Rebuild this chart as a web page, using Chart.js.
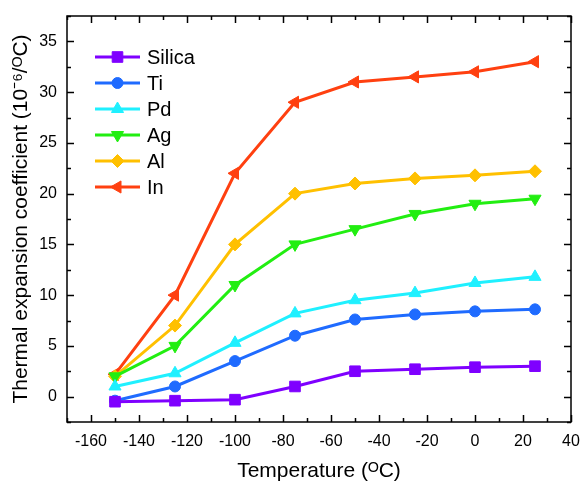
<!DOCTYPE html>
<html>
<head>
<meta charset="utf-8">
<script src="https://cdn.jsdelivr.net/npm/chart.js@4.4.1/dist/chart.umd.min.js"></script>
<style>
  html, body { margin: 0; padding: 0; background: #fff; }
  #wrap { width: 581px; height: 484px; }
</style>
</head>
<body>
<div id="wrap"><canvas id="chart" width="581" height="484"></canvas></div>
<script>
const temperatures = [-150, -125, -100, -75, -50, -25, 0, 25];
const silica = [-0.5, -0.4, -0.3, 1.0, 2.5, 2.7, 2.9, 3.0];
const ti = [-0.4, 1.0, 3.5, 6.0, 7.6, 8.1, 8.4, 8.6];
const pd = [1.0, 2.3, 5.3, 8.2, 9.5, 10.2, 11.2, 11.8];
const ag = [2.0, 5.0, 11.0, 15.0, 16.5, 18.0, 19.0, 19.5];
const al = [2.0, 7.0, 15.0, 20.0, 21.0, 21.5, 21.8, 22.2];
const indium = [2.2, 10.0, 22.0, 29.0, 31.0, 31.5, 32.0, 33.0];

const xTickLabels = [-160, -140, -120, -100, -80, -60, -40, -20, 0, 20, 40];
const yTickLabels = [0, 5, 10, 15, 20, 25, 30, 35];

const FONT = '"Liberation Sans", Arial, sans-serif';

function series(label, values, color, pointStyle, rotation, radius) {
    return {
        label: label,
        data: temperatures.map((t, i) => ({x: t, y: values[i]})),
        borderColor: color,
        backgroundColor: color,
        borderWidth: 3,
        pointStyle: pointStyle,
        rotation: rotation,
        pointRadius: radius,
        pointBorderWidth: 1,
        pointHoverRadius: radius
    };
}

// frame + inward ticks on all four sides
const frameTicks = {
    id: 'frameTicks',
    afterDraw(chart) {
        const {ctx, chartArea: {left, right, top, bottom}, scales: {x, y}} = chart;
        ctx.save();
        ctx.strokeStyle = '#000';
        ctx.lineWidth = 1.5;
        ctx.strokeRect(left, top, right - left, bottom - top);
        ctx.beginPath();
        for (let v = -170; v <= 40; v += 10) {
            const px = Math.round(x.getPixelForValue(v)) + 0.5;
            const len = (v % 20 === 0) ? 7 : 4;
            ctx.moveTo(px, bottom); ctx.lineTo(px, bottom - len);
            ctx.moveTo(px, top); ctx.lineTo(px, top + len);
        }
        for (let v = -2.5; v <= 37.5; v += 2.5) {
            const py = Math.round(y.getPixelForValue(v)) + 0.5;
            const len = (v % 5 === 0) ? 7 : 4;
            ctx.moveTo(left, py); ctx.lineTo(left + len, py);
            ctx.moveTo(right, py); ctx.lineTo(right - len, py);
        }
        ctx.stroke();
        ctx.restore();
    }
};

// legend drawn inside the plot, line + marker like the original
const insideLegend = {
    id: 'insideLegend',
    afterDraw(chart) {
        const ctx = chart.ctx;
        const x0 = 95, x1 = 140, y0 = 57, step = 26;
        ctx.save();
        chart.data.datasets.forEach((ds, i) => {
            const yy = y0 + i * step;
            ctx.strokeStyle = ds.borderColor;
            ctx.lineWidth = ds.borderWidth;
            ctx.beginPath();
            ctx.moveTo(x0, yy);
            ctx.lineTo(x1, yy);
            ctx.stroke();
            ctx.fillStyle = ds.backgroundColor;
            ctx.lineWidth = 1;
            Chart.helpers.drawPoint(ctx, {
                pointStyle: ds.pointStyle,
                rotation: ds.rotation,
                radius: ds.pointRadius,
                borderWidth: 1
            }, (x0 + x1) / 2, yy);
            ctx.fillStyle = '#000';
            ctx.font = '20px ' + FONT;
            ctx.textBaseline = 'middle';
            ctx.textAlign = 'left';
            ctx.fillText(ds.label, 147, yy + 1);
        });
        ctx.restore();
    }
};

new Chart(document.getElementById('chart'), {
    type: 'line',
    data: {
        datasets: [
            series('Silica', silica, '#7F00FF', 'rect', 0, 7.5),
            series('Ti', ti, '#1F6BFF', 'circle', 0, 5.5),
            series('Pd', pd, '#1FF0FF', 'triangle', 0, 7),
            series('Ag', ag, '#22EE11', 'triangle', 180, 7),
            series('Al', al, '#FFC000', 'rectRot', 0, 6.5),
            series('In', indium, '#FF4010', 'triangle', -90, 7)
        ]
    },
    options: {
        responsive: false,
        animation: false,
        layout: {padding: {top: 16, right: 10, left: 0, bottom: 0}},
        plugins: {
            legend: {display: false},
            tooltip: {enabled: false}
        },
        scales: {
            x: {
                type: 'linear',
                min: -170,
                max: 40,
                afterBuildTicks: s => { s.ticks = xTickLabels.map(v => ({value: v})); },
                afterFit: s => { s.height = 62; s.paddingLeft = 0; s.paddingRight = 0; },
                grid: {display: false, drawTicks: false},
                border: {display: false},
                ticks: {
                    color: '#000',
                    font: {family: FONT, size: 16},
                    padding: 10,
                    maxRotation: 0,
                    autoSkip: false
                },
                title: {
                    display: true,
                    text: 'Temperature (ᴼC)',
                    color: '#000',
                    font: {family: FONT, size: 21},
                    padding: {top: 0, bottom: 0}
                }
            },
            y: {
                type: 'linear',
                min: -2.5,
                max: 37.5,
                afterBuildTicks: s => { s.ticks = yTickLabels.map(v => ({value: v})); },
                afterFit: s => { s.width = 67; s.paddingTop = 0; s.paddingBottom = 0; },
                grid: {display: false, drawTicks: false},
                border: {display: false},
                ticks: {
                    color: '#000',
                    font: {family: FONT, size: 16},
                    padding: 10,
                    autoSkip: false
                },
                title: {
                    display: true,
                    text: 'Thermal expansion coefficient (10⁻⁶/ᴼC)',
                    color: '#000',
                    font: {family: FONT, size: 21},
                    padding: {top: 9, bottom: 0}
                }
            }
        }
    },
    plugins: [frameTicks, insideLegend]
});
</script>
</body>
</html>
